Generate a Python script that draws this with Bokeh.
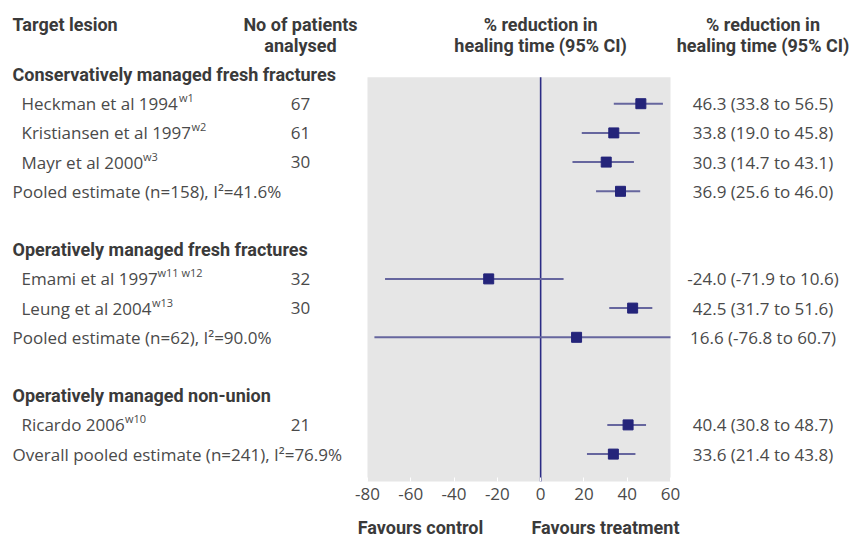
from bokeh.plotting import figure
from bokeh.models import Range1d, FixedTicker, LinearAxis, ColumnDataSource
from bokeh.core.properties import value
from bokeh.embed import file_html
from bokeh.resources import INLINE

# ---------------- data ----------------
sections = ["Conservatively managed fresh fractures",
            "Operatively managed fresh fractures",
            "Operatively managed non-union"]
section_rows = [0, 6, 11]

labels = ["Heckman et al 1994",
          "Kristiansen et al 1997",
          "Mayr et al 2000",
          "Pooled estimate (n=158), I\u00b2=41.6%",
          "Emami et al 1997",
          "Leung et al 2004",
          "Pooled estimate (n=62), I\u00b2=90.0%",
          "Ricardo 2006",
          "Overall pooled estimate (n=241), I\u00b2=76.9%"]
refs = ["w1", "w2", "w3", "", "w11 w12", "w13", "", "w10", ""]
is_pooled = [False, False, False, True, False, False, True, False, True]
rows = [1, 2, 3, 4, 7, 8, 9, 12, 13]
patients = ["67", "61", "30", "", "32", "30", "", "21", ""]
estimate = [46.3, 33.8, 30.3, 36.9, -24.0, 42.5, 16.6, 40.4, 33.6]
lower = [33.8, 19.0, 14.7, 25.6, -71.9, 31.7, -76.8, 30.8, 21.4]
upper = [56.5, 45.8, 43.1, 46.0, 10.6, 51.6, 60.7, 48.7, 43.8]
x_ticks = [-80, -60, -40, -20, 0, 20, 40, 60]
x_min, x_max = -80, 60

# ---------------- layout helpers ----------------
W, H = 851, 537
px_left, px_right = 367, 670          # pixel positions of -80 and 60
scale = (px_right - px_left) / (x_max - x_min)
def px2x(px):
    return x_min + (px - px_left) / scale

ROW0_PX, ROW_H = 74.0, 29.2           # pixel centre of row 0, row spacing
def px2row(py):
    return (py - ROW0_PX) / ROW_H
panel_bottom = 481

p = figure(width=W, height=H, output_backend="svg", toolbar_location=None,
           x_range=Range1d(px2x(0), px2x(W)),
           y_range=Range1d(px2row(H), px2row(0)),
           x_axis_location="below", y_axis_location=None,
           min_border_left=0, min_border_right=0, min_border_top=0,
           min_border_bottom=0, outline_line_color=None,
           background_fill_color="white", border_fill_color="white")
p.grid.visible = False

BODY = value("Open Sans")
BOLD = value("Roboto")
BODY_COL = "#4a4a4a"
BOLD_COL = "#3a3a3a"
FS = "17px"
BFS = "18px"

# grey panel
gray_top = px2row(76.7)
gray_bot = px2row(panel_bottom)
p.quad(left=[x_min], right=[x_max], top=[gray_top], bottom=[gray_bot],
       fill_color="#e6e6e6", line_color=None)
p.segment(x0=[0], y0=[gray_top], x1=[0], y1=[gray_bot],
          line_color="#2b2b85", line_width=1.6)

# CI lines & squares
sup_px = [178.5, 191, 142.5, 0, 157, 151.5, 0, 124.5, 0]   # x pixel where superscript starts
src = ColumnDataSource(dict(
    y=rows, est=estimate, lo=lower, hi=[min(u, x_max) for u in upper],
    lab=labels, lab_x=[px2x(12) if pooled else px2x(21) for pooled in is_pooled],
    sup=refs, sup_x=[px2x(s) for s in sup_px],
    pat=patients,
    txt=[f"{e:.1f} ({l:.1f} to {u:.1f})" for e, l, u in zip(estimate, lower, upper)]))
p.segment(x0="lo", y0="y", x1="hi", y1="y", source=src,
          line_color="#66669e", line_width=2)
p.scatter(x="est", y="y", source=src, marker="square", size=10,
          fill_color="#24247a", line_color="#24247a")

# texts
p.text(x="lab_x", y="y", text="lab", source=src, text_font=BODY, text_font_size=FS,
       text_color=BODY_COL, text_baseline="middle", text_align="left")
p.text(x="sup_x", y="y", text="sup", source=src, text_font=BODY, text_font_size="11px",
       text_color=BODY_COL, text_baseline="middle", text_align="left", y_offset=-6)
p.text(x=px2x(300), y="y", text="pat", source=src, text_font=BODY, text_font_size=FS,
       text_color=BODY_COL, text_baseline="middle", text_align="center")
p.text(x=px2x(762.5), y="y", text="txt", source=src, text_font=BODY, text_font_size=FS,
       text_color=BODY_COL, text_baseline="middle", text_align="center")

p.text(x=[px2x(12)] * len(sections), y=section_rows, text=sections, text_font=BOLD,
       text_font_style="bold", text_font_size=BFS, text_color=BOLD_COL,
       text_baseline="middle", text_align="left")

h1, h2 = px2row(23.5), px2row(44.5)
p.text(x=[px2x(12)], y=[h1], text=["Target lesion"], text_font=BOLD,
       text_font_style="bold", text_font_size=BFS, text_color=BOLD_COL,
       text_baseline="middle", text_align="left")
p.text(x=[px2x(300)] * 2, y=[h1, h2], text=["No of patients", "analysed"], text_font=BOLD,
       text_font_style="bold", text_font_size=BFS, text_color=BOLD_COL,
       text_baseline="middle", text_align="center")
p.text(x=[0, 0], y=[h1, h2], text=["% reduction in", "healing time (95% CI)"], text_font=BOLD,
       text_font_style="bold", text_font_size=BFS, text_color=BOLD_COL,
       text_baseline="middle", text_align="center")
p.text(x=[px2x(762.5)] * 2, y=[h1, h2], text=["% reduction in", "healing time (95% CI)"],
       text_font=BOLD, text_font_style="bold", text_font_size=BFS, text_color=BOLD_COL,
       text_baseline="middle", text_align="center")

# main x axis, pinned to the bottom of the grey panel
ax = p.xaxis[0]
ax.fixed_location = gray_bot
ax.ticker = FixedTicker(ticks=x_ticks)
ax.major_label_overrides = {t: str(t) for t in x_ticks}
ax.axis_line_color = None
ax.major_tick_in = 4
ax.major_tick_out = 0
ax.major_tick_line_color = "white"
ax.minor_tick_line_color = None
ax.major_label_standoff = 6
ax.major_label_text_font = "Open Sans"
ax.major_label_text_font_size = FS
ax.major_label_text_color = BODY_COL

# "Favours" axis
fav_pos = [px2x(420), px2x(605)]
fav = LinearAxis(ticker=FixedTicker(ticks=fav_pos), fixed_location=gray_bot,
                 major_label_overrides={fav_pos[0]: "Favours control",
                                        fav_pos[1]: "Favours treatment"})
fav.axis_line_color = None
fav.major_tick_line_color = None
fav.minor_tick_line_color = None
fav.major_label_standoff = 29
fav.major_label_text_font = "Roboto"
fav.major_label_text_font_style = "bold"
fav.major_label_text_font_size = BFS
fav.major_label_text_color = BOLD_COL
p.add_layout(fav, "below")

open("out.html", "w").write(file_html(p, INLINE))
